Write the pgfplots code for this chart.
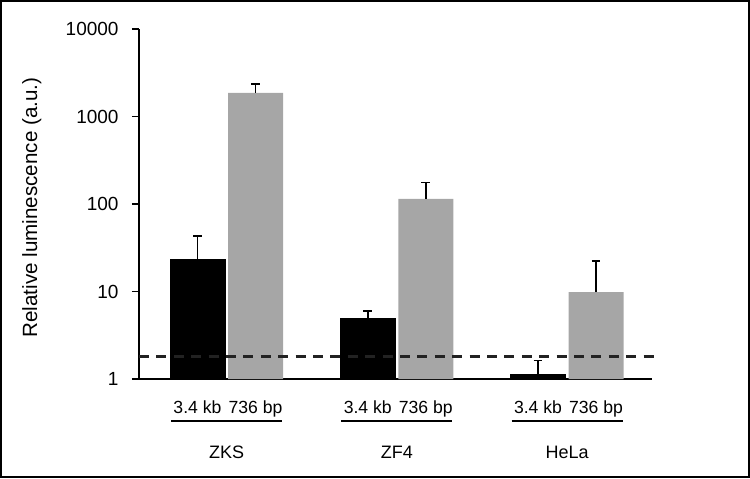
\documentclass[border=0pt]{standalone}
\usepackage{fontspec}
\setmainfont{Liberation Sans}
\usepackage{pgfplots}
\pgfplotsset{compat=1.18}
\definecolor{barGray}{HTML}{A6A6A6}
\definecolor{dashGray}{HTML}{222222}
\begin{document}
\begin{tikzpicture}[font=\fontsize{9}{11}\selectfont]
\useasboundingbox (0,0) rectangle (375pt,239pt);
\draw[line width=0.8pt] (0.4pt,0.4pt) rectangle (374.6pt,238.6pt);
\begin{axis}[
    at={(69.5pt,49.5pt)}, anchor=south west,
    scale only axis,
    width=256.5pt, height=175pt,
    ybar=1.5pt, bar width=27.5pt,
    ymode=log, ymin=1, ymax=10000,
    log origin=infty,
    xmin=-0.514, xmax=2.499,
    axis x line*=bottom, axis y line*=left,
    axis line style={line width=0.9pt, -},
    xtick=\empty,
    ytick={1,10,100,1000,10000},
    yticklabels={1,10,100,1000,10000},
    yminorticks=false,
    tick align=outside,
    major tick length=3.5pt,
    tick style={line width=0.9pt, black},
    yticklabel style={font=\fontsize{9.5}{11}\selectfont, xshift=-3.2pt},
    ylabel={Relative luminescence (a.u.)},
    every axis y label/.style={at={(axis description cs:-0.209,0.49)}, rotate=90, anchor=center, font=\fontsize{10.3}{12}\selectfont},
    clip=false,
    error bars/y dir=plus,
    error bars/y explicit,
    error bars/error bar style={line width=0.8pt, black},
    error bars/error mark options={rotate=90, mark size=2.2pt, line width=0.8pt, black},
]
% 3.4 kb
\addplot[fill=black, draw=black, line width=0.4pt] coordinates {
    (0,23.2) +- (0,19.7)
    (1,4.88) +- (0,1.08)
    (2,1.14) +- (0,0.49)
};
% 736 bp
\addplot[fill=barGray, draw=none] coordinates {
    (0,1866) +- (0,498)
    (1,114.6) +- (0,61)
    (2,9.82) +- (0,12.6)
};
% threshold
\addplot[sharp plot, forget plot, dashGray, line width=1.3pt, dash pattern=on 5pt off 3.7pt, draw] coordinates {(-0.514,1.81) (2.52,1.81)};

\foreach \g/\name in {0/ZKS,1/ZF4,2/HeLa} {
    \edef\tmp{\noexpand\node[anchor=base, font=\noexpand\fontsize{8.8}{10}\noexpand\selectfont] at (axis cs:\g-0.1706,1) [yshift=-17.25pt] {3.4 kb};
      \noexpand\node[anchor=base, font=\noexpand\fontsize{8.8}{10}\noexpand\selectfont] at (axis cs:\g+0.1706,1) [yshift=-17.25pt] {736 bp};
      \noexpand\draw[line width=1pt] ([yshift=-20.75pt]axis cs:\g-0.326,1) -- ([yshift=-20.75pt]axis cs:\g+0.326,1);
      \noexpand\node[anchor=base] at (axis cs:\g,1) [yshift=-39.75pt] {\name};}
    \tmp
}
\end{axis}
\end{tikzpicture}
\end{document}
